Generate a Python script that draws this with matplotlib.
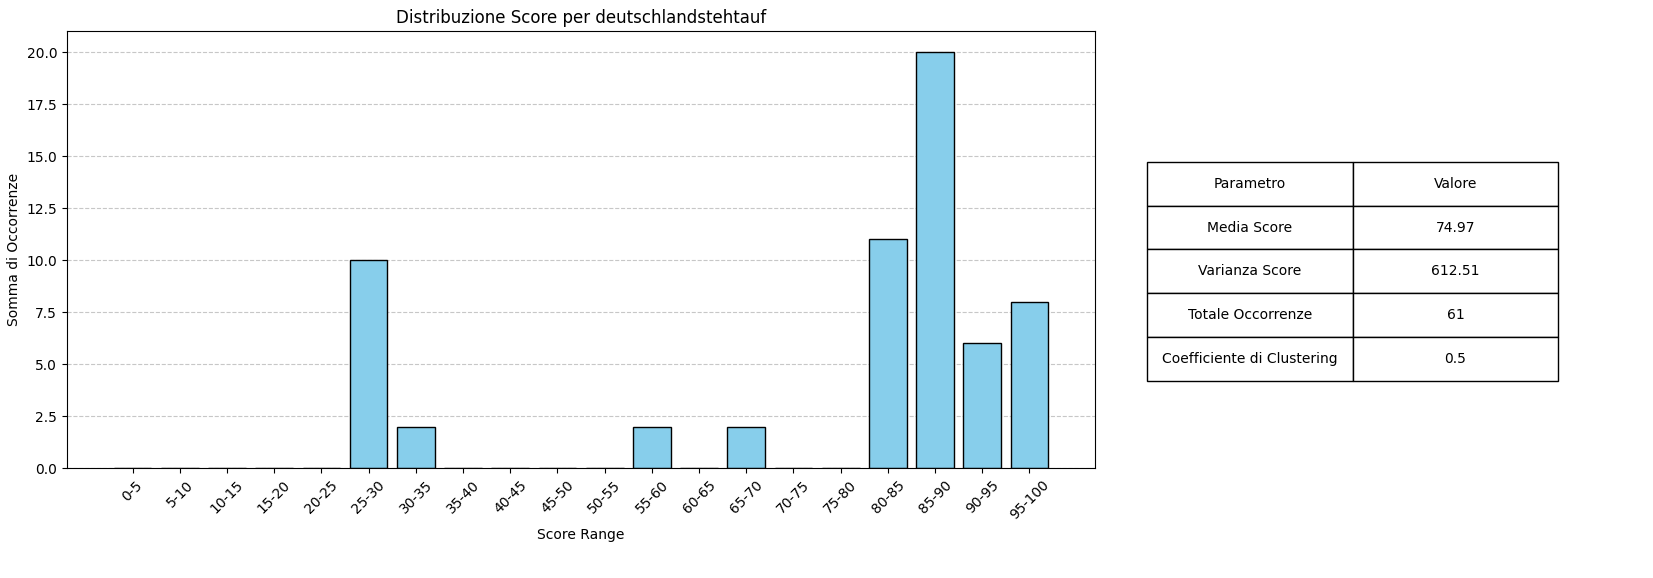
import matplotlib
matplotlib.use("Agg")
import matplotlib.pyplot as plt

ranges = ["0-5","5-10","10-15","15-20","20-25","25-30","30-35","35-40","40-45","45-50",
          "50-55","55-60","60-65","65-70","70-75","75-80","80-85","85-90","90-95","95-100"]
counts = [0,0,0,0,0,10,2,0,0,0,0,2,0,2,0,0,11,20,6,8]
params = ["Media Score","Varianza Score","Totale Occorrenze","Coefficiente di Clustering"]
values = ["74.97","612.51","61","0.5"]

fig = plt.figure(figsize=(16.53,5.78), dpi=100)
ax = fig.add_axes([0.0405,0.190,0.622,0.756])
ax.bar(ranges, counts, color="skyblue", edgecolor="black")
ax.set_title("Distribuzione Score per deutschlandstehtauf")
ax.set_xlabel("Score Range")
ax.set_ylabel("Somma di Occorrenze")
ax.tick_params(axis="x", rotation=45)
ax.grid(axis="y", linestyle="--", alpha=0.7)
ax.set_axisbelow(True)

tax = fig.add_axes([0.694,0.341,0.2486,0.379])
tax.axis("off")
tbl = tax.table(cellText=[[p,v] for p,v in zip(params,values)],
                colLabels=["Parametro","Valore"], cellLoc="center", bbox=[0,0,1,1])
tbl.auto_set_font_size(False)
tbl.set_fontsize(10)
fig.savefig("out.png", dpi=100)
